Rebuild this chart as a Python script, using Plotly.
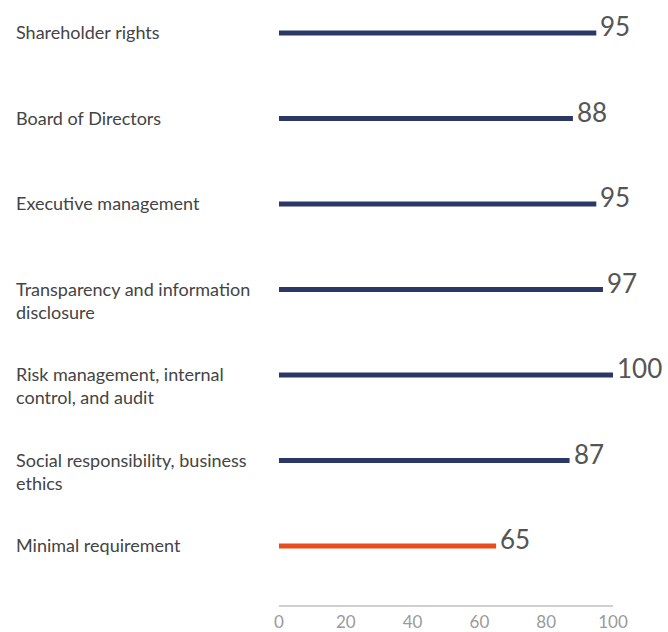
import plotly.graph_objects as go

categories = [
    "Shareholder rights",
    "Board of Directors",
    "Executive management",
    "Transparency and information<br>disclosure",
    "Risk management, internal<br>control, and audit",
    "Social responsibility, business<br>ethics",
    "Minimal requirement",
]
values = [95, 88, 95, 97, 100, 87, 65]
colors = ["#2b3865"] * 6 + ["#e84c1c"]
tick_vals = [0, 20, 40, 60, 80, 100]

W, H = 668, 632
ml, mr, mt, mb = 279, 55, 10, 27
ys = list(range(len(categories)))
plot_h = H - mt - mb
# bar centers at 33 + 85.5*i px
y_top = (mt - 33) / 85.5
y_bot = (H - mb - 33) / 85.5

fig = go.Figure()
fig.add_trace(go.Bar(
    x=values, y=ys, orientation="h", width=5 / 85.5,
    marker=dict(color=colors, line=dict(width=0)),
    hoverinfo="skip",
))

font_family = "Lato, 'Noto Sans', sans-serif"
plot_w = W - ml - mr
for i, (c, v) in enumerate(zip(categories, values)):
    fig.add_annotation(
        x=(14 - ml) / plot_w, xref="paper", y=i, yref="y",
        text=c, showarrow=False, xanchor="left", yanchor="top",
        align="left", yshift=14,
        font=dict(family=font_family, size=18, color="#444444"),
    )
    fig.add_annotation(
        x=v, y=i, xref="x", yref="y", text=str(v), showarrow=False,
        xanchor="left", yanchor="middle", xshift=2, yshift=7,
        font=dict(family=font_family, size=26, color="#555555"),
    )

fig.update_layout(
    width=W, height=H,
    margin=dict(l=ml, r=mr, t=mt, b=mb, autoexpand=False),
    plot_bgcolor="white", paper_bgcolor="white",
    showlegend=False,
    xaxis=dict(range=[0, 100], tickvals=tick_vals, showgrid=False,
               zeroline=False, showline=True, linecolor="#d0d0d0",
               linewidth=1.5, ticks="", ticklabelstandoff=1,
               tickfont=dict(family=font_family, size=17, color="#9a9a9a"),
               fixedrange=True),
    yaxis=dict(range=[y_bot, y_top], showticklabels=False, showgrid=False,
               zeroline=False, showline=False, fixedrange=True),
)

fig.write_html("out.html")
